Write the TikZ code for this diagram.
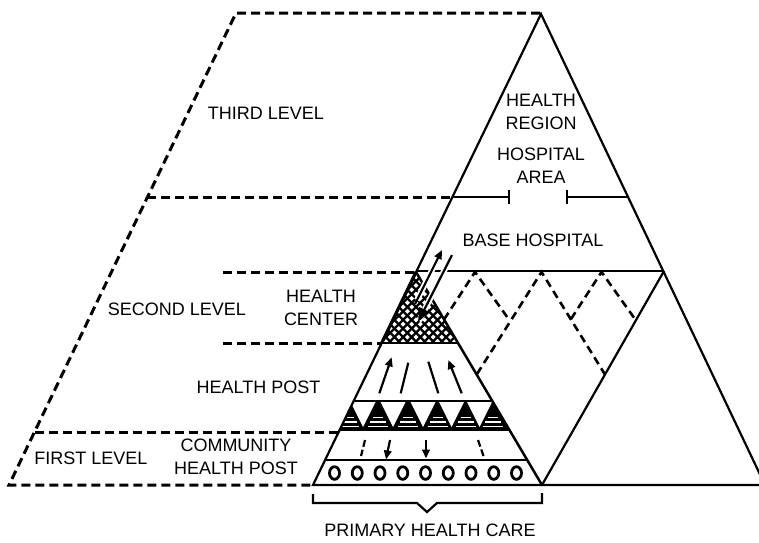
\documentclass[tikz,border=0pt]{standalone}
\usepackage{fontspec}
\setmainfont{Liberation Sans}
\usetikzlibrary{arrows.meta}
\begin{document}
\begin{tikzpicture}[x=1pt,y=-1pt,
  edge/.style={line width=2.2pt, line join=miter},
  dashline/.style={line width=3pt, dash pattern=on 9pt off 5pt},
  zigdash/.style={line width=2.6pt, dash pattern=on 8pt off 5pt},
  lbl/.style={font=\fontsize{18}{23}\selectfont, align=center, inner sep=0pt},
  smallarr/.style={line width=2.2pt, -{Triangle[length=9pt,width=7.5pt]}},
  bigarr/.style={line width=2.2pt, -{Triangle[length=14pt,width=11pt]}},
  halo/.style={white, line width=6pt},
  bar/.style={line width=2.8pt},
]
\useasboundingbox (0,0) rectangle (759,542);
\coordinate (apex) at (541,14);
\coordinate (BL) at (313,485);
\coordinate (BM) at (542,485);
\coordinate (V) at (664,271);
\coordinate (BR) at (765,485);
\coordinate (PA) at (416,272);
\coordinate (HCL) at (381.7,343);
\coordinate (HCR) at (458,343);

% crosshatch of the health center
\begin{scope}
  \clip (PA) -- (HCL) -- (HCR) -- cycle;
  \foreach \i in {0,...,26} {
    \draw[line width=2.3pt] (330+8.6*\i,350) -- ++(-90,-90);
    \draw[line width=2.3pt] (330+8.6*\i,350) -- ++(90,-90);
  }
\end{scope}

% pyramid interior bands
\begin{scope}
  \clip (PA) -- (BL) -- (BM) -- cycle;
  \fill (300,401) rectangle (560,430);
  \foreach \w in {363,393,423,451.5,479.5,507.5}
    \fill[white] (\w-13.5,400) -- (\w+13.5,400) -- (\w,427) -- cycle;
  \foreach \b in {349,378,408,437.5,465.5,493}
    \draw[white,line width=1.3pt] (\b-5,417.5) -- (\b+5,417.5)
      (\b-8,422) -- (\b+8,422) (\b-10,426.3) -- (\b+10,426.3);
  \draw[bar] (300,343) -- (560,343);
  \draw[bar] (300,401) -- (560,401);
  \draw[bar] (300,430) -- (560,430);
  \draw[line width=2.5pt] (300,460) -- (560,460);
\end{scope}

% main outlines
\draw[edge] (BR) -- (apex) -- (BL) -- (BR);
\draw[edge] (V) -- (BM);
\draw[line width=2.5pt] (PA) -- (BM);
\draw[line width=3.2pt] (PA) -- (HCL);
\draw[edge] (416.5,271) -- (V);

% hospital area line with bars
\draw[edge] (452.4,197) -- (509,197);
\draw[edge] (509,190) -- (509,204);
\draw[edge] (567,197) -- (628,197);
\draw[edge] (567,190) -- (567,204);

% dashed level lines
\draw[dashline] (540,13) -- (236,13) -- (9,485) -- (313,485);
\draw[dashline] (147,197) -- (452.4,197);
\draw[dashline] (223,272) -- (415,272);
\draw[dashline] (223,343) -- (381,343);
\draw[dashline] (34.5,432) -- (340,432);

% dashed zigzag (hospital areas)
\draw[zigdash] (444,319.5) -- (475,272) -- (510,321);
\draw[zigdash] (477,374) -- (541.5,272) -- (605,374.5);
\draw[zigdash] (571,319) -- (601.5,272) -- (636,320.5);

% arrows between base hospital and health center
\draw[halo] (417,300) -- (440,254);
\draw[halo] (450,259) -- (419,321);
\draw[smallarr] (415,304) -- (442,250);
\draw[bigarr] (452,255) -- (418,322);

% health post arrows
\draw[smallarr] (379.3,393.3) -- (391.7,357.3);
\draw[line width=2.2pt] (400.7,393.3) -- (408.3,362.7);
\draw[line width=2.2pt] (438.3,393.3) -- (428.3,361.7);
\draw[smallarr] (461.7,393.3) -- (448.3,360);

% community band
\draw[line width=2.2pt, dash pattern=on 7pt off 3pt] (365,440) -- (361,456);
\draw[smallarr] (390,440) -- (386,459.5);
\draw[smallarr] (426,440) -- (426,458.5);
\draw[line width=2.2pt, dash pattern=on 7pt off 3pt] (478,440) -- (483.5,456);

% circles
\foreach \k in {0,...,8}
  \draw[line width=2.8pt] (334.5+22.75*\k,473) ellipse [x radius=5pt, y radius=6.3pt];

% bracket
\draw[edge] (313,494) -- (313,503) -- (417,503) -- (427,512) -- (437,503) -- (542,503) -- (542,493);

% labels
\node[lbl] (third) at (266,113) {THIRD LEVEL};
\node[lbl] (region) at (541,111.5) {HEALTH\\REGION};
\node[lbl] (area) at (541,166) {HOSPITAL\\AREA};
\node[lbl] (base) at (533,240) {BASE HOSPITAL};
\node[lbl] (second) at (177,309) {SECOND LEVEL};
\node[lbl] (center) at (321,307.5) {HEALTH\\CENTER};
\node[lbl] (hpost) at (258.5,387) {HEALTH POST};
\node[lbl] (first) at (91,458) {FIRST LEVEL};
\node[lbl] (chp) at (236,456.5) {COMMUNITY\\HEALTH POST};
\node[lbl] (phc) at (430,530) {PRIMARY HEALTH CARE};
\end{tikzpicture}
\end{document}
